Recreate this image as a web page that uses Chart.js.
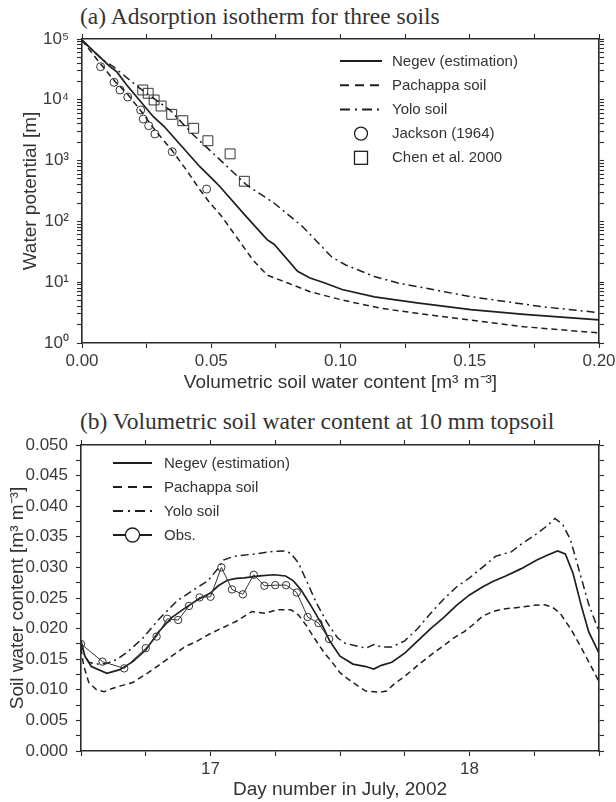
<!DOCTYPE html>
<html><head><meta charset="utf-8">
<script src="https://cdn.jsdelivr.net/npm/chart.js@4.4.1/dist/chart.umd.min.js"></script>
<style>
html,body{margin:0;padding:0;background:#fff;}
body{width:616px;height:802px;position:relative;overflow:hidden;}
.ttl{position:absolute;left:80px;font-family:'Liberation Serif','Times New Roman',serif;font-size:23.5px;color:#333;white-space:nowrap;line-height:1;}
canvas{position:absolute;left:0;}
</style></head><body>
<div class="ttl" style="top:5.3px">(a) Adsorption isotherm for three soils</div>
<div class="ttl" style="top:409.8px">(b) Volumetric soil water content at 10 mm topsoil</div>
<canvas id="c1" width="616" height="400" style="top:0"></canvas>
<canvas id="c2" width="616" height="402" style="top:400px"></canvas>
<script>
// ---------------- (a) Adsorption isotherm ----------------
const seriesNamesA = ['Negev (estimation)', 'Pachappa soil', 'Yolo soil', 'Jackson (1964)', 'Chen et al. 2000'];
const thetaNegev = [0.000, 0.005, 0.0108, 0.0135, 0.0173, 0.0276, 0.0318, 0.0353, 0.0456, 0.0509, 0.0534, 0.0633, 0.0716, 0.0744, 0.0834, 0.0882, 0.0937, 0.1006, 0.1131, 0.1296, 0.1504, 0.1710, 0.2000];
const psiNegev   = [95500, 60300, 35100, 28800, 17500, 5270, 3630, 2470, 794, 479, 372, 123, 50.1, 41.7, 15.1, 11.7, 9.77, 7.59, 5.75, 4.57, 3.55, 2.95, 2.40];
const thetaPach  = [0.000, 0.0070, 0.0128, 0.0179, 0.0231, 0.0282, 0.0347, 0.0405, 0.0456, 0.0495, 0.0537, 0.0606, 0.0661, 0.0716, 0.0799, 0.0882, 0.1006, 0.1158, 0.1296, 0.1504, 0.1710, 0.2000];
const psiPach    = [95500, 39800, 19950, 12000, 6310, 3180, 1490, 690, 331, 200, 126, 49.4, 23.2, 13.1, 9.6, 6.98, 5.09, 3.72, 3.08, 2.39, 1.85, 1.46];
const thetaYolo  = [0.000, 0.0082, 0.0121, 0.0224, 0.0340, 0.0431, 0.0521, 0.0637, 0.0744, 0.0854, 0.0965, 0.1020, 0.1131, 0.1227, 0.1366, 0.1504, 0.1642, 0.1780, 0.2000];
const psiYolo    = [95500, 44700, 35100, 15450, 6790, 2640, 1160, 397, 199, 81.8, 26.3, 19.2, 12.4, 9.6, 7.45, 5.78, 4.78, 3.95, 3.16];
const thetaJackson = [0.0072, 0.0124, 0.0147, 0.0177, 0.0227, 0.0237, 0.0258, 0.0282, 0.0349, 0.0482];
const psiJackson   = [35000, 19400, 14500, 11100, 6800, 4830, 3750, 2740, 1400, 340];
const thetaChen = [0.0235, 0.0256, 0.0279, 0.0306, 0.0347, 0.0390, 0.0432, 0.0487, 0.0573, 0.0628];
const psiChen   = [14500, 12800, 9930, 7900, 5770, 4530, 3400, 2120, 1290, 457];
const thetaTicks = [0, 0.025, 0.05, 0.075, 0.1, 0.125, 0.15, 0.175, 0.2];
const thetaLabelStep = 0.05;
const psiDecades = [1, 10, 100, 1000, 10000, 100000];
const psiMinorMult = [1, 2, 3, 4, 5, 6, 7, 8, 9];

// ---------------- (b) Soil water content ----------------
const seriesNamesB = ['Negev (estimation)', 'Pachappa soil', 'Yolo soil', 'Obs.'];
const dayNegev = [16.5, 16.515, 16.54, 16.6, 16.65, 16.7, 16.75, 16.8, 16.85, 16.9, 16.95, 17.0, 17.03, 17.065, 17.1, 17.13, 17.19, 17.245, 17.29, 17.32, 17.35, 17.39, 17.43, 17.46, 17.5, 17.55, 17.6, 17.63, 17.66, 17.7, 17.75, 17.8, 17.85, 17.9, 17.95, 18.0, 18.05, 18.09, 18.14, 18.2, 18.26, 18.3, 18.34, 18.37, 18.4, 18.43, 18.46, 18.5];
const swcNegev = [0.0180, 0.0155, 0.0138, 0.0127, 0.0133, 0.0146, 0.0165, 0.0195, 0.0218, 0.0233, 0.0247, 0.0258, 0.0270, 0.0279, 0.0282, 0.0283, 0.0286, 0.0288, 0.0286, 0.0278, 0.0263, 0.0236, 0.0207, 0.0180, 0.0155, 0.0142, 0.0138, 0.0134, 0.0140, 0.0145, 0.0160, 0.0180, 0.0200, 0.0218, 0.0238, 0.0255, 0.0268, 0.0277, 0.0286, 0.0298, 0.0312, 0.0320, 0.0327, 0.0322, 0.0290, 0.0240, 0.0195, 0.0160];
const dayPach = [16.5, 16.51, 16.53, 16.56, 16.59, 16.62, 16.65, 16.7, 16.76, 16.8, 16.84, 16.9, 16.95, 17.0, 17.04, 17.1, 17.16, 17.21, 17.26, 17.31, 17.34, 17.37, 17.4, 17.44, 17.47, 17.5, 17.53, 17.57, 17.6, 17.65, 17.68, 17.71, 17.75, 17.8, 17.86, 17.9, 17.94, 17.98, 18.01, 18.05, 18.09, 18.13, 18.2, 18.25, 18.29, 18.32, 18.35, 18.39, 18.43, 18.47, 18.5];
const swcPach = [0.0168, 0.0140, 0.0112, 0.0100, 0.0097, 0.0102, 0.0106, 0.0112, 0.0128, 0.0140, 0.0152, 0.0170, 0.0180, 0.0192, 0.0200, 0.0212, 0.0228, 0.0225, 0.0231, 0.0231, 0.0222, 0.0205, 0.0185, 0.0160, 0.0145, 0.0128, 0.0118, 0.0106, 0.0098, 0.0096, 0.0098, 0.0110, 0.0122, 0.0140, 0.0160, 0.0172, 0.0185, 0.0195, 0.0205, 0.0220, 0.0228, 0.0232, 0.0235, 0.0238, 0.0239, 0.0235, 0.0225, 0.0200, 0.0170, 0.0138, 0.0113];
const dayYolo = [16.5, 16.51, 16.53, 16.56, 16.6, 16.64, 16.68, 16.74, 16.8, 16.87, 16.93, 16.99, 17.03, 17.05, 17.09, 17.17, 17.24, 17.29, 17.31, 17.34, 17.375, 17.41, 17.45, 17.49, 17.52, 17.56, 17.6, 17.63, 17.66, 17.7, 17.75, 17.8, 17.85, 17.9, 17.95, 18.0, 18.05, 18.1, 18.13, 18.16, 18.2, 18.25, 18.3, 18.33, 18.36, 18.39, 18.42, 18.46, 18.5];
const swcYolo = [0.0178, 0.0160, 0.0145, 0.0142, 0.0143, 0.0150, 0.0162, 0.0185, 0.0215, 0.0245, 0.0262, 0.0278, 0.0299, 0.0312, 0.0318, 0.0322, 0.0326, 0.0327, 0.0323, 0.0307, 0.0274, 0.0241, 0.0210, 0.0185, 0.0176, 0.0172, 0.0168, 0.0174, 0.0170, 0.0170, 0.0180, 0.0200, 0.0225, 0.0248, 0.0268, 0.0283, 0.0300, 0.0318, 0.0322, 0.0325, 0.0338, 0.0352, 0.0368, 0.0380, 0.0370, 0.0345, 0.0300, 0.0240, 0.0195];
const dayObs = [16.5, 16.583, 16.667, 16.75, 16.792, 16.833, 16.875, 16.917, 16.958, 17.0, 17.042, 17.083, 17.125, 17.167, 17.208, 17.25, 17.292, 17.333, 17.375, 17.417, 17.458];
const swcObs = [0.0175, 0.0146, 0.0135, 0.0168, 0.0187, 0.0216, 0.0214, 0.0237, 0.0251, 0.0252, 0.0300, 0.0264, 0.0256, 0.0288, 0.0270, 0.0271, 0.0271, 0.0259, 0.0219, 0.0209, 0.0183];
const dayTicks = [16.5, 16.75, 17, 17.25, 17.5, 17.75, 18, 18.25, 18.5];
const dayLabels = [17, 18];
const swcTicks = [0, 0.0025, 0.005, 0.0075, 0.01, 0.0125, 0.015, 0.0175, 0.02, 0.0225, 0.025, 0.0275, 0.03, 0.0325, 0.035, 0.0375, 0.04, 0.0425, 0.045, 0.0475, 0.05];
const swcLabelStep = 0.005;

// ---------------- helpers ----------------
const FONT = "'Liberation Sans', Arial, Helvetica, sans-serif";
Chart.defaults.font.family = FONT;
Chart.defaults.color = '#333';
const AX = '#2a2a2a';
const LINE = '#1e1e1e';
const pts = (xs, ys) => xs.map((x, i) => ({x: x, y: ys[i]}));
const SUP = {'0':'⁰','1':'¹','2':'²','3':'³','4':'⁴','5':'⁵','6':'⁶','7':'⁷','8':'⁸','9':'⁹'};
const psiTicks = [];
psiDecades.forEach(d => { if (d < 100000) psiMinorMult.forEach(m => psiTicks.push(m * d)); else psiTicks.push(d); });
const isMultiple = (v, step) => Math.abs(v / step - Math.round(v / step)) < 1e-6;
const fixBox = (w, h) => (s) => {
  if (w != null) s.width = w;
  if (h != null) s.height = h;
  s.paddingLeft = 0; s.paddingRight = 0; s.paddingTop = 0; s.paddingBottom = 0;
};
const setTicks = arr => (s) => { s.ticks = arr.map(v => ({value: v})); };
const gridOpt = {drawOnChartArea: false, drawTicks: true, tickLength: 5, color: AX, tickColor: AX, tickWidth: 1.1};
const borderOpt = {display: true, color: AX, width: 1.6};
const tickFont = {size: 17};

const legendPlugin = {
  id: 'manualLegend',
  afterDraw(chart, args, o) {
    if (!o || !o.items) return;
    const ctx = chart.ctx;
    ctx.save();
    o.items.forEach((it, i) => {
      const y = o.y0 + i * o.dy;
      const cx = (o.x0 + o.x1) / 2;
      ctx.strokeStyle = LINE;
      if (it.line) {
        ctx.lineWidth = it.lw || 2;
        ctx.setLineDash(it.dash || []);
        ctx.beginPath(); ctx.moveTo(o.x0, y); ctx.lineTo(o.x1, y); ctx.stroke();
        ctx.setLineDash([]);
      }
      if (it.marker === 'circle') {
        ctx.lineWidth = 1.3; ctx.fillStyle = '#fff';
        ctx.beginPath(); ctx.arc(cx, y, it.r, 0, 2 * Math.PI); ctx.fill(); ctx.stroke();
      } else if (it.marker === 'rect') {
        ctx.lineWidth = 1.3;
        ctx.strokeRect(cx - it.r, y - it.r, 2 * it.r, 2 * it.r);
      }
      ctx.fillStyle = '#333';
      ctx.font = o.fontSize + 'px ' + FONT;
      ctx.textBaseline = 'middle';
      ctx.textAlign = 'left';
      ctx.fillText(chart.data.datasets[it.ds].label, o.tx, y + 0.5);
    });
    ctx.restore();
  }
};

// ---------------- chart (a) ----------------
new Chart(document.getElementById('c1'), {
  type: 'line',
  data: {
    datasets: [
      {label: seriesNamesA[0], data: pts(thetaNegev, psiNegev), borderColor: LINE, borderWidth: 1.7, pointRadius: 0, xAxisID: 'x', yAxisID: 'y'},
      {label: seriesNamesA[1], data: pts(thetaPach, psiPach), borderColor: LINE, borderWidth: 1.5, borderDash: [6, 4], pointRadius: 0, xAxisID: 'x', yAxisID: 'y'},
      {label: seriesNamesA[2], data: pts(thetaYolo, psiYolo), borderColor: LINE, borderWidth: 1.5, borderDash: [8, 4, 2, 4], pointRadius: 0, xAxisID: 'x', yAxisID: 'y'},
      {label: seriesNamesA[3], data: pts(thetaJackson, psiJackson), showLine: false, pointStyle: 'circle', pointRadius: 4, pointBorderWidth: 1, pointBorderColor: '#333', pointBackgroundColor: 'rgba(0,0,0,0)', xAxisID: 'x', yAxisID: 'y'},
      {label: seriesNamesA[4], data: pts(thetaChen, psiChen), showLine: false, pointStyle: 'rect', pointRadius: 7, pointBorderWidth: 1, pointBorderColor: '#333', pointBackgroundColor: 'rgba(0,0,0,0)', xAxisID: 'x', yAxisID: 'y'}
    ]
  },
  options: {
    responsive: false, animation: false, devicePixelRatio: 1,
    layout: {padding: 0},
    elements: {line: {tension: 0}},
    plugins: {
      legend: {display: false}, tooltip: {enabled: false},
      manualLegend: {x0: 340, x1: 382, tx: 392, y0: 61, dy: 24.2, fontSize: 15, items: [
        {ds: 0, line: true, dash: [], lw: 2},
        {ds: 1, line: true, dash: [9, 6], lw: 2},
        {ds: 2, line: true, dash: [10, 5, 2, 5], lw: 2},
        {ds: 3, marker: 'circle', r: 6.5},
        {ds: 4, marker: 'rect', r: 6.5}
      ]}
    },
    scales: {
      x: {type: 'linear', position: 'bottom', min: 0, max: 0.2,
        afterBuildTicks: setTicks(thetaTicks),
        ticks: {autoSkip: false, maxRotation: 0, padding: 3, font: tickFont, color: '#3a3a3a',
          callback: v => isMultiple(v, thetaLabelStep) ? v.toFixed(2) : ''},
        grid: gridOpt, border: borderOpt,
        title: {display: true, text: 'Volumetric soil water content [m³ m⁻³]', font: {size: 19}, color: '#333', padding: {top: 0, bottom: 5.6}},
        afterFit: fixBox(null, 57)},
      xTop: {type: 'linear', position: 'top', min: 0, max: 0.2,
        afterBuildTicks: setTicks(thetaTicks),
        ticks: {display: false}, grid: gridOpt, border: borderOpt,
        afterFit: fixBox(null, 39)},
      y: {type: 'logarithmic', position: 'left', min: 1, max: 100000,
        afterBuildTicks: setTicks(psiTicks),
        ticks: {autoSkip: false, padding: 8, font: tickFont, color: '#3a3a3a',
          callback: v => { const e = Math.log10(v); return Math.abs(e - Math.round(e)) < 1e-9 ? '10' + SUP[String(Math.round(e))] : ''; }},
        grid: gridOpt, border: borderOpt,
        title: {display: true, text: 'Water potential [m]', font: {size: 19}, color: '#333', padding: {top: 19, bottom: 0}},
        afterFit: fixBox(82, null)},
      yRight: {type: 'logarithmic', position: 'right', min: 1, max: 100000,
        afterBuildTicks: setTicks(psiTicks),
        ticks: {display: false}, grid: gridOpt, border: borderOpt,
        afterFit: fixBox(17, null)}
    }
  },
  plugins: [legendPlugin]
});

// ---------------- chart (b) ----------------
new Chart(document.getElementById('c2'), {
  type: 'line',
  data: {
    datasets: [
      {label: seriesNamesB[3], data: pts(dayObs, swcObs), borderColor: '#333', borderWidth: 1, pointStyle: 'circle', pointRadius: 3.7, pointBorderWidth: 1, pointBorderColor: '#333', pointBackgroundColor: 'rgba(0,0,0,0)', xAxisID: 'x', yAxisID: 'y'},
      {label: seriesNamesB[0], data: pts(dayNegev, swcNegev), borderColor: LINE, borderWidth: 1.7, pointRadius: 0, xAxisID: 'x', yAxisID: 'y'},
      {label: seriesNamesB[1], data: pts(dayPach, swcPach), borderColor: LINE, borderWidth: 1.5, borderDash: [6, 4], pointRadius: 0, xAxisID: 'x', yAxisID: 'y'},
      {label: seriesNamesB[2], data: pts(dayYolo, swcYolo), borderColor: LINE, borderWidth: 1.5, borderDash: [8, 4, 2, 4], pointRadius: 0, xAxisID: 'x', yAxisID: 'y'}
    ]
  },
  options: {
    responsive: false, animation: false, devicePixelRatio: 1,
    layout: {padding: 0},
    elements: {line: {tension: 0}},
    plugins: {
      legend: {display: false}, tooltip: {enabled: false},
      manualLegend: {x0: 113, x1: 152, tx: 164, y0: 63, dy: 24, fontSize: 15, items: [
        {ds: 1, line: true, dash: [], lw: 2},
        {ds: 2, line: true, dash: [9, 6], lw: 2},
        {ds: 3, line: true, dash: [10, 5, 2, 5], lw: 2},
        {ds: 0, line: true, dash: [], lw: 2, marker: 'circle', r: 7}
      ]}
    },
    scales: {
      x: {type: 'linear', position: 'bottom', min: 16.5, max: 18.5,
        afterBuildTicks: setTicks(dayTicks),
        ticks: {autoSkip: false, maxRotation: 0, padding: 3, font: tickFont, color: '#3a3a3a',
          callback: v => dayLabels.includes(v) ? String(v) : ''},
        grid: gridOpt, border: borderOpt,
        title: {display: true, text: 'Day number in July, 2002', font: {size: 19}, color: '#333', padding: {top: 0, bottom: 1}},
        afterFit: fixBox(null, 51)},
      xTop: {type: 'linear', position: 'top', min: 16.5, max: 18.5,
        afterBuildTicks: setTicks(dayTicks),
        ticks: {display: false}, grid: gridOpt, border: borderOpt,
        afterFit: fixBox(null, 45)},
      y: {type: 'linear', position: 'left', min: 0, max: 0.05,
        afterBuildTicks: setTicks(swcTicks),
        ticks: {autoSkip: false, padding: 8, font: tickFont, color: '#3a3a3a',
          callback: v => isMultiple(v, swcLabelStep) ? v.toFixed(3) : ''},
        grid: gridOpt, border: borderOpt,
        title: {display: true, text: 'Soil water content [m³ m⁻³]', font: {size: 19}, color: '#333', padding: {top: 6, bottom: 0}},
        afterFit: fixBox(81, null)},
      yRight: {type: 'linear', position: 'right', min: 0, max: 0.05,
        afterBuildTicks: setTicks(swcTicks),
        ticks: {display: false}, grid: gridOpt, border: borderOpt,
        afterFit: fixBox(17, null)}
    }
  },
  plugins: [legendPlugin]
});
</script>
</body></html>
